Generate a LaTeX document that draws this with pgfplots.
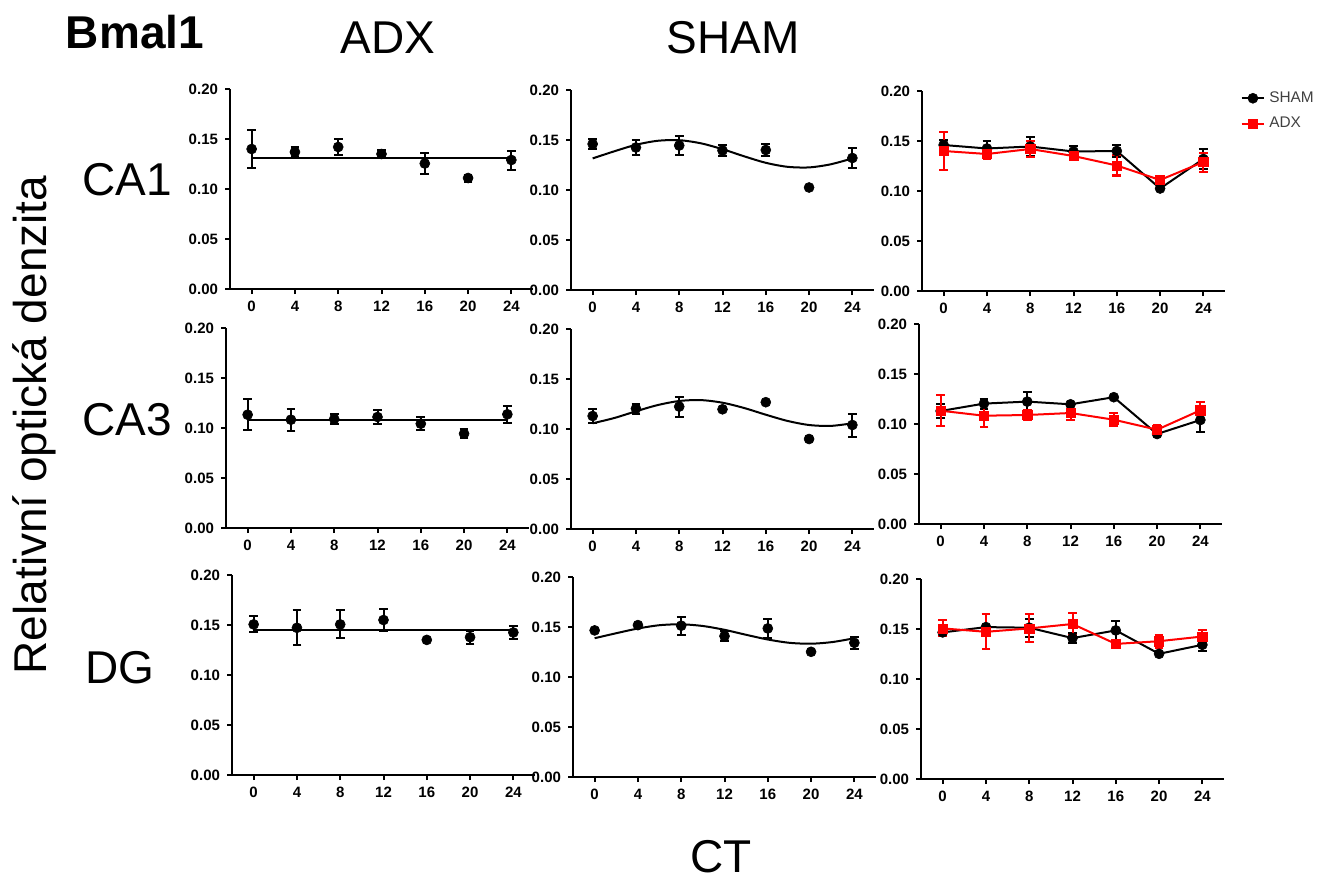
\documentclass[border=0pt]{standalone}
\usepackage{fontspec}
\setmainfont{Liberation Sans}
\usepackage{pgfplots}
\usepackage{pgfplotstable}
\pgfplotsset{compat=1.18}

% CA1
\pgfplotstableread{
x y e
0 0.1400 0.0190
4 0.1370 0.0050
8 0.1420 0.0075
12 0.1350 0.0040
16 0.1255 0.0100
20 0.1110 0.0035
24 0.1290 0.0095
}\adxCAone
\pgfplotstableread{
x y e
0 0.1460 0.0047
4 0.1425 0.0079
8 0.1445 0.0099
12 0.1395 0.0055
16 0.1400 0.0060
20 0.1025 0.0000
24 0.1320 0.0100
}\shamCAone
% CA3
\pgfplotstableread{
x y e
0 0.1133 0.0153
4 0.1083 0.0110
8 0.1090 0.0050
12 0.1110 0.0070
16 0.1043 0.0067
20 0.0943 0.0047
24 0.1137 0.0083
}\adxCAthree
\pgfplotstableread{
x y e
0 0.1130 0.0067
4 0.1204 0.0050
8 0.1224 0.0100
12 0.1197 0.0000
16 0.1268 0.0000
20 0.0900 0.0000
24 0.1040 0.0115
}\shamCAthree
% DG
\pgfplotstableread{
x y e
0 0.1506 0.0080
4 0.1472 0.0175
8 0.1506 0.0140
12 0.1550 0.0108
16 0.1351 0.0000
20 0.1378 0.0064
24 0.1425 0.0062
}\adxDG
\pgfplotstableread{
x y e
0 0.1466 0.0000
4 0.1519 0.0000
8 0.1513 0.0088
12 0.1409 0.0050
16 0.1486 0.0095
20 0.1252 0.0000
24 0.1342 0.0060
}\shamDG

\pgfplotsset{
  panel/.style={
    scale only axis, width=151.5pt, height=100pt,
    anchor=south west,
    xmin=-2, xmax=26, ymin=0, ymax=0.2,
    axis x line=bottom, axis y line=left,
    axis line style={line width=1pt, -},
    every outer x axis line/.append style={-},
    every outer y axis line/.append style={-},
    xtick={0,4,...,24},
    ytick={0,0.05,0.1,0.15,0.2},
    yticklabels={0.00,0.05,0.10,0.15,0.20},
    tick align=outside, major tick length=2.5pt,
    tick style={line width=1pt, black},
    tick label style={font=\bfseries\fontsize{7.5}{9}\selectfont},
    /pgf/number format/assume math mode=true,
    clip=false,
  },
  pts/.style={#1, line width=1pt, mark=*, mark size=2.5pt,
    mark options={solid, fill=#1, line width=0.3pt},
    error bars/y dir=both, error bars/y explicit,
    error bars/error bar style={line width=1pt, #1},
    error bars/error mark options={rotate=90, line width=1pt, mark size=2.2pt, #1}},
  sqpts/.style={#1, line width=1pt, mark=square*, mark size=2.3pt,
    mark options={solid, fill=#1, line width=0.3pt},
    error bars/y dir=both, error bars/y explicit,
    error bars/error bar style={line width=1pt, #1},
    error bars/error mark options={rotate=90, line width=1pt, mark size=2.2pt, #1}},
  fit/.style={black, line width=1pt, no marks, smooth},
}

\begin{document}
\begin{tikzpicture}
\path (0,0) rectangle (671.5pt,440pt);

% row 1: CA1
\begin{axis}[panel, at={(115pt,295.5pt)}]
\addplot[fit] coordinates {(0,0.1307)(24,0.1307)};
\addplot[only marks, pts=black] table[x=x, y=y, y error=e] {\adxCAone};
\end{axis}
\begin{axis}[panel, at={(285.5pt,295pt)}]
\addplot[fit] coordinates {(0,0.1316)(2,0.1387)(4,0.1452)(6,0.1492)(8,0.1498)(10,0.1467)(12,0.1408)(14,0.1337)(16,0.1272)(18,0.1232)(20,0.1226)(22,0.1257)(24,0.1316)};
\addplot[only marks, pts=black] table[x=x, y=y, y error=e] {\shamCAone};
\end{axis}
\begin{axis}[panel, at={(461pt,294.5pt)},
  legend style={at={(1.05,1.02)}, anchor=north west, draw=none, fill=none,
    font=\fontsize{7.7}{9}\selectfont, text=black!75, row sep=2pt,
    inner sep=0pt},
  legend cell align=left,
  legend image code/.code={\draw[mark repeat=2,mark phase=2] plot coordinates {(0cm,0cm)(0.2cm,0cm)(0.4cm,0cm)};}]
\addplot[pts=black] table[x=x, y=y, y error=e] {\shamCAone};
\addlegendentry{SHAM}
\addplot[sqpts=red] table[x=x, y=y, y error=e] {\adxCAone};
\addlegendentry{ADX}
\end{axis}

% row 2: CA3
\begin{axis}[panel, at={(113pt,176pt)}]
\addplot[fit] coordinates {(0,0.1077)(24,0.1077)};
\addplot[only marks, pts=black] table[x=x, y=y, y error=e] {\adxCAthree};
\end{axis}
\begin{axis}[panel, at={(285.5pt,175.5pt)}]
\addplot[fit] coordinates {(0,0.1057)(2,0.1110)(4,0.1177)(6,0.1239)(8,0.1280)(10,0.1289)(12,0.1263)(14,0.1210)(16,0.1143)(18,0.1081)(20,0.1040)(22,0.1031)(24,0.1057)};
\addplot[only marks, pts=black] table[x=x, y=y, y error=e] {\shamCAthree};
\end{axis}
\begin{axis}[panel, at={(459.5pt,178pt)}]
\addplot[pts=black] table[x=x, y=y, y error=e] {\shamCAthree};
\addplot[sqpts=red] table[x=x, y=y, y error=e] {\adxCAthree};
\end{axis}

% row 3: DG
\begin{axis}[panel, at={(116pt,52.5pt)}]
\addplot[fit] coordinates {(0,0.1455)(24,0.1455)};
\addplot[only marks, pts=black] table[x=x, y=y, y error=e] {\adxDG};
\end{axis}
\begin{axis}[panel, at={(286.5pt,51.5pt)}]
\addplot[fit] coordinates {(0,0.1388)(2,0.1438)(4,0.1485)(6,0.1518)(8,0.1527)(10,0.1510)(12,0.1472)(14,0.1422)(16,0.1375)(18,0.1342)(20,0.1333)(22,0.1350)(24,0.1388)};
\addplot[only marks, pts=black] table[x=x, y=y, y error=e] {\shamDG};
\end{axis}
\begin{axis}[panel, at={(460.5pt,50.5pt)}]
\addplot[pts=black] table[x=x, y=y, y error=e] {\shamDG};
\addplot[sqpts=red] table[x=x, y=y, y error=e] {\adxDG};
\end{axis}

% titles and labels
\node[font=\bfseries\fontsize{23}{27}\selectfont] at (67.5pt,424pt) {Bmal1};
\node[font=\fontsize{23}{27}\selectfont] at (194pt,421pt) {ADX};
\node[font=\fontsize{23}{27}\selectfont] at (366.5pt,421pt) {SHAM};
\node[font=\fontsize{23}{27}\selectfont] at (63.5pt,350pt) {CA1};
\node[font=\fontsize{23}{27}\selectfont] at (63.5pt,230pt) {CA3};
\node[font=\fontsize{23}{27}\selectfont] at (60pt,106pt) {DG};
\node[font=\fontsize{23}{27}\selectfont, rotate=90] at (17pt,227.5pt) {Relativní optická denzita};
\node[font=\fontsize{23}{27}\selectfont] at (360.5pt,11.5pt) {CT};
\end{tikzpicture}
\end{document}
